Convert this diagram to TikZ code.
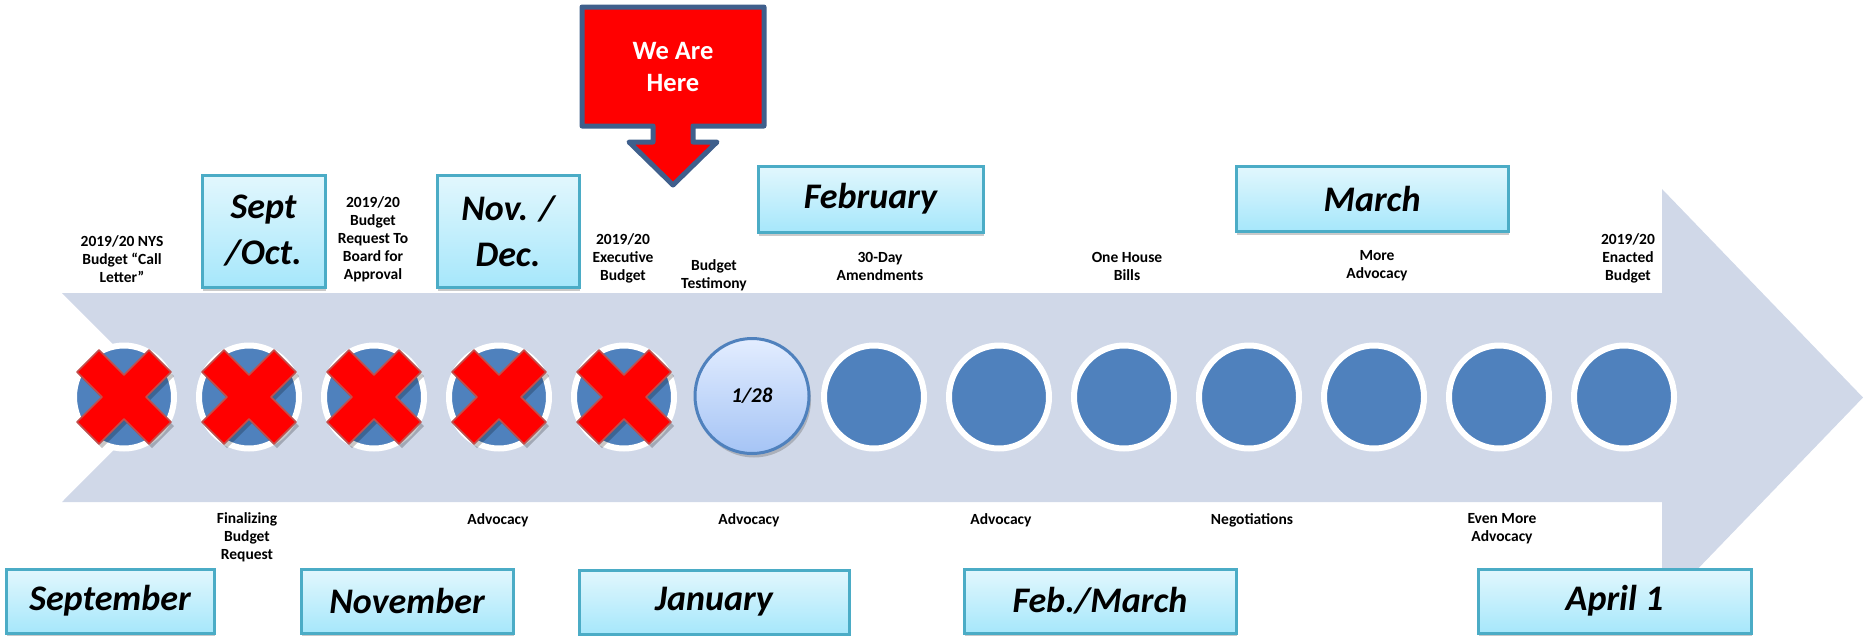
\documentclass[tikz,border=0pt]{standalone}
\usepackage{fontspec}
\setmainfont{Carlito}
\usetikzlibrary{shapes.geometric,shadows}
\definecolor{arrowfill}{HTML}{D0D8E8}
\definecolor{dotblue}{HTML}{4F81BD}
\definecolor{boxedge}{HTML}{4BACC6}
\definecolor{boxtop}{HTML}{E2F7FD}
\definecolor{boxbot}{HTML}{A6E7FB}
\definecolor{calloutedge}{HTML}{3F5F8C}
\definecolor{xedge}{HTML}{C0504D}
\definecolor{nowtop}{HTML}{E3EDFF}
\definecolor{nowbot}{HTML}{A5C4F5}
\tikzset{
  lbl/.style={font=\bfseries\fontsize{15.5}{18}\selectfont, align=center, inner sep=0pt},
  monthbox/.style={draw=boxedge, line width=3pt, top color=boxtop, bottom color=boxbot,
    inner sep=0pt, align=center, font=\bfseries\itshape\fontsize{36}{46}\selectfont,
    drop shadow={shadow xshift=1pt, shadow yshift=-4pt, opacity=0.35, fill=black!60}},
  dot/.style={ellipse, fill=dotblue, draw=white, line width=6pt,
    minimum width=100pt, minimum height=103pt, inner sep=0pt},
  nowdot/.style={ellipse, draw=dotblue, line width=3pt, top color=nowtop, bottom color=nowbot,
    minimum width=114pt, minimum height=115pt, inner sep=0pt,
    font=\bfseries\itshape\fontsize{21}{24}\selectfont,
    drop shadow={shadow xshift=2pt, shadow yshift=-4pt, opacity=0.35, fill=black!60}},
  pics/redx/.style={code={
    \fill[black, opacity=0.22, shift={(3,4)}] (-25,-47) -- (0,-22) -- (25,-47) -- (47,-25) -- (22,0) -- (47,25)
      -- (25,47) -- (0,22) -- (-25,47) -- (-47,25) -- (-22,0) -- (-47,-25) -- cycle;
    \filldraw[fill=red, draw=xedge, line width=1.5pt, line join=round]
      (-25,-47) -- (0,-22) -- (25,-47) -- (47,-25) -- (22,0) -- (47,25)
      -- (25,47) -- (0,22) -- (-25,47) -- (-47,25) -- (-22,0) -- (-47,-25) -- cycle;
  }}
}
\begin{document}
\begin{tikzpicture}[x=1pt, y=-1pt]
\useasboundingbox (0,0) rectangle (1863,635);
% big arrow
\fill[arrowfill] (62,293) -- (1662,293) -- (1662,189) -- (1863,397.5) -- (1662,606)
  -- (1662,502) -- (62,502) -- (166,397.5) -- cycle;
% we are here callout
\filldraw[fill=red, draw=calloutedge, line width=5pt, line join=round]
  (582,7) -- (764,7) -- (764,126) -- (693,126) -- (693,142) -- (717,142) -- (673,185)
  -- (629,142) -- (653,142) -- (653,126) -- (582,126) -- cycle;
\node[font=\bfseries\fontsize{26.5}{32}\selectfont, text=white, align=center] (here) at (673,67) {We Are\\Here};
% circles
\foreach \i/\x in {1/124,2/249,3/374,4/499,5/624,7/874,8/999,9/1124,10/1249,11/1374,12/1499,13/1624}{
  \node[dot] (c\i) at (\x,397) {};
}
\node[nowdot] (c6) at (752,396) {1/28};
\foreach \i in {1,...,5}{ \pic at (c\i) {redx}; }
% month boxes
\node[monthbox, minimum width=123pt, minimum height=112pt] (sepoct) at (263.5,231) {Sept\\/Oct.};
\node[monthbox, minimum width=142pt, minimum height=112pt] (novdec) at (508,231) {Nov. /\\Dec.};
\node[monthbox, minimum width=225pt, minimum height=66pt] (feb) at (870.5,199) {February};
\node[monthbox, minimum width=272pt, minimum height=65pt] (mar) at (1372,198.5) {March};
\node[monthbox, minimum width=208pt, minimum height=64pt] (sep) at (110,601) {September};
\node[monthbox, minimum width=212pt, minimum height=64pt] (nov) at (407,601) {November};
\node[monthbox, minimum width=270pt, minimum height=64pt] (jan) at (714,602) {January};
\node[monthbox, minimum width=272pt, minimum height=64pt] (febmar) at (1100,601) {Feb./March};
\node[monthbox, minimum width=273pt, minimum height=64pt] (apr) at (1614.5,601) {April 1};
% top labels
\node[lbl] (nys) at (122,259) {2019/20 NYS\\Budget “Call\\Letter”};
\node[lbl] (req) at (373,239) {2019/20\\Budget\\Request To\\Board for\\Approval};
\node[lbl] (exec) at (623,258) {2019/20\\Executive\\Budget};
\node[lbl] (test) at (714,275) {Budget\\Testimony};
\node[lbl] (amend) at (880,266) {30-Day\\Amendments};
\node[lbl] (house) at (1127,266) {One House\\Bills};
\node[lbl] (more) at (1377,266) {More\\Advocacy};
\node[lbl] (enact) at (1628,258) {2019/20\\Enacted\\Budget};
% bottom labels
\node[lbl] (final) at (247,537) {Finalizing\\Budget\\Request};
\node[lbl] (adv1) at (498,520) {Advocacy};
\node[lbl] (adv2) at (749,520) {Advocacy};
\node[lbl] (adv3) at (1001,520) {Advocacy};
\node[lbl] (nego) at (1252,520) {Negotiations};
\node[lbl] (evenmore) at (1502,529) {Even More\\Advocacy};
\end{tikzpicture}
\end{document}
